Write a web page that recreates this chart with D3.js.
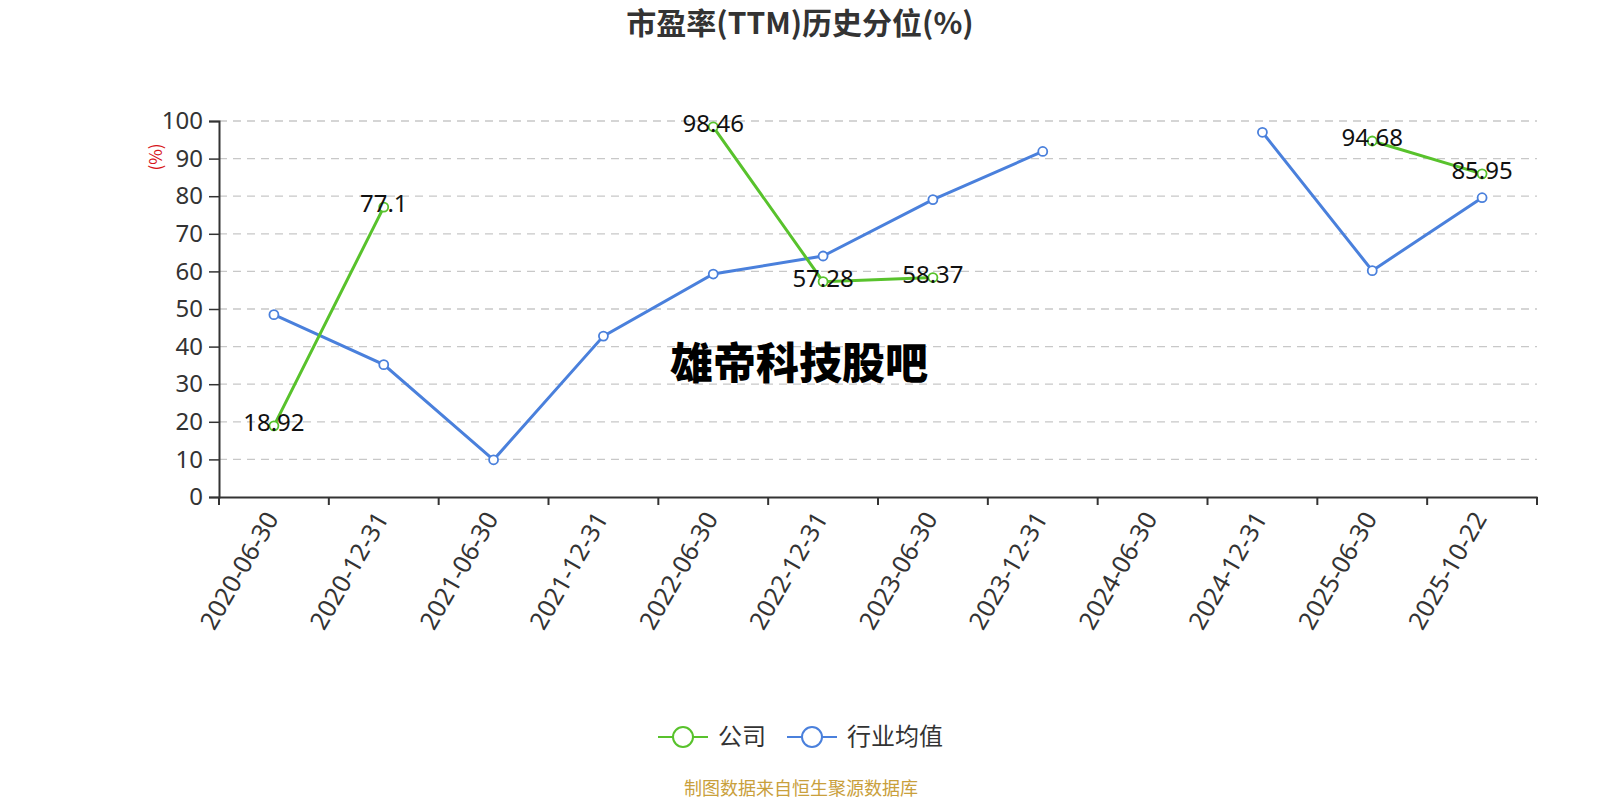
<!DOCTYPE html>
<html>
<head>
<meta charset="utf-8">
<script src="https://cdn.jsdelivr.net/npm/d3@7"></script>
<style>
  body { margin: 0; background: #fff; }
  svg { font-family: "Noto Sans CJK SC", "Noto Sans", sans-serif; }
</style>
</head>
<body>
<div id="canvas"></div>
<script>
"use strict"

// categories and series
let dates = ["2020-06-30", "2020-12-31", "2021-06-30", "2021-12-31", "2022-06-30", "2022-12-31",
             "2023-06-30", "2023-12-31", "2024-06-30", "2024-12-31", "2025-06-30", "2025-10-22"];
let company = [18.92, 77.1, null, null, 98.46, 57.28, 58.37, null, null, null, 94.68, 85.95];
let industry = [48.5, 35.2, 9.9, 42.8, 59.3, 64.1, 79.1, 91.9, null, 97.0, 60.2, 79.6];
let yTicks = [0, 10, 20, 30, 40, 50, 60, 70, 80, 90, 100];

let green = "#58c22c";
let blue = "#4a80dc";

let drawing = d3.select("#canvas")
    .append("svg")
    .attr("width", 1600)
    .attr("height", 800);

let plotLeft = 219, plotRight = 1537, plotTop = 121, plotBottom = 497;

let x = d3.scaleBand().domain(dates).range([plotLeft, plotRight]);
let y = d3.scaleLinear().domain([0, 100]).range([plotBottom, plotTop]);

// title
drawing.append("text")
    .attr("x", 800).attr("y", 34)
    .attr("text-anchor", "middle")
    .attr("font-size", 30).attr("font-weight", "bold")
    .attr("fill", "#333")
    .text("市盈率(TTM)历史分位(%)");

// grid lines
drawing.append("g").selectAll("line")
    .data(yTicks.filter(d => d > 0))
    .join("line")
    .attr("x1", plotLeft).attr("x2", plotRight)
    .attr("y1", d => y(d)).attr("y2", d => y(d))
    .attr("stroke", "#c8c8c8")
    .attr("stroke-width", 1.3)
    .attr("stroke-dasharray", "8,6");

// y axis
let yAxis = drawing.append("g")
    .attr("transform", `translate(${plotLeft},0)`)
    .call(d3.axisLeft(y).tickValues(yTicks).tickSize(10).tickPadding(6));
yAxis.select(".domain").attr("stroke", "#333").attr("stroke-width", 2);
yAxis.selectAll(".tick line").attr("stroke", "#333").attr("stroke-width", 1.5);
yAxis.selectAll(".tick text")
    .attr("font-size", 24).attr("fill", "#333")
    .attr("font-family", "Noto Sans, sans-serif");

drawing.append("text")
    .attr("transform", "translate(162,157) rotate(-90)")
    .attr("text-anchor", "middle")
    .attr("font-size", 17).attr("fill", "#d7141a")
    .text("(%)");

// x axis
let xAxis = drawing.append("g")
    .attr("transform", `translate(0,${plotBottom})`)
    .call(d3.axisBottom(x).tickSize(0).tickPadding(0));
xAxis.select(".domain").attr("stroke", "#333").attr("stroke-width", 2);
xAxis.selectAll(".tick text").remove();

// band boundary ticks
let bounds = dates.map(d => x(d)).concat([plotRight]);
xAxis.append("g").selectAll("line")
    .data(bounds)
    .join("line")
    .attr("x1", d => d).attr("x2", d => d)
    .attr("y1", 0).attr("y2", 8)
    .attr("stroke", "#333").attr("stroke-width", 2);

xAxis.append("g").selectAll("text")
    .data(dates)
    .join("text")
    .attr("transform", d => `translate(${x(d) + x.bandwidth() / 2 - 2},${17}) rotate(-60)`)
    .attr("text-anchor", "end")
    .attr("dy", "0.35em")
    .attr("font-size", 25).attr("fill", "#333")
    .attr("font-family", "Noto Sans, sans-serif")
    .text(d => d);

// lines and markers
function drawSeries(values, color, labels) {
    let pts = dates.map((d, i) => ({ d: d, v: values[i] }));
    let line = d3.line()
        .defined(p => p.v !== null)
        .x(p => x(p.d) + x.bandwidth() / 2)
        .y(p => y(p.v));
    let g = drawing.append("g");
    g.append("path")
        .datum(pts)
        .attr("d", line)
        .attr("fill", "none")
        .attr("stroke", color)
        .attr("stroke-width", 3);
    let shown = pts.filter(p => p.v !== null);
    g.selectAll("circle")
        .data(shown)
        .join("circle")
        .attr("cx", p => x(p.d) + x.bandwidth() / 2)
        .attr("cy", p => y(p.v))
        .attr("r", 4.5)
        .attr("fill", "#fff")
        .attr("stroke", color)
        .attr("stroke-width", 1.8);
    if (labels) {
        g.selectAll("text")
            .data(shown)
            .join("text")
            .attr("x", p => x(p.d) + x.bandwidth() / 2)
            .attr("y", p => y(p.v) + 5)
            .attr("text-anchor", "middle")
            .attr("font-size", 24).attr("fill", "#111")
            .attr("font-family", "Noto Sans, sans-serif")
            .text(p => p.v);
    }
}

drawSeries(industry, blue, false);
drawSeries(company, green, true);

// watermark
drawing.append("text")
    .attr("x", 799).attr("y", 379)
    .attr("text-anchor", "middle")
    .attr("font-size", 43).attr("font-weight", 900)
    .attr("fill", "#000")
    .text("雄帝科技股吧");

// legend
let legendItems = [
    { name: "公司", color: green, x: 658 },
    { name: "行业均值", color: blue, x: 787 }
];
let lg = drawing.append("g").selectAll("g")
    .data(legendItems)
    .join("g")
    .attr("transform", d => `translate(${d.x},737)`);
lg.append("line")
    .attr("x1", 0).attr("x2", 50)
    .attr("stroke", d => d.color).attr("stroke-width", 2);
lg.append("circle")
    .attr("cx", 25).attr("r", 10)
    .attr("fill", "#fff")
    .attr("stroke", d => d.color).attr("stroke-width", 2);
lg.append("text")
    .attr("x", 60).attr("dy", "0.35em")
    .attr("font-size", 24).attr("fill", "#333")
    .text(d => d.name);

// footer
drawing.append("text")
    .attr("x", 801).attr("y", 795)
    .attr("text-anchor", "middle")
    .attr("font-size", 18).attr("fill", "#c9a03c")
    .text("制图数据来自恒生聚源数据库");
</script>
</body>
</html>
